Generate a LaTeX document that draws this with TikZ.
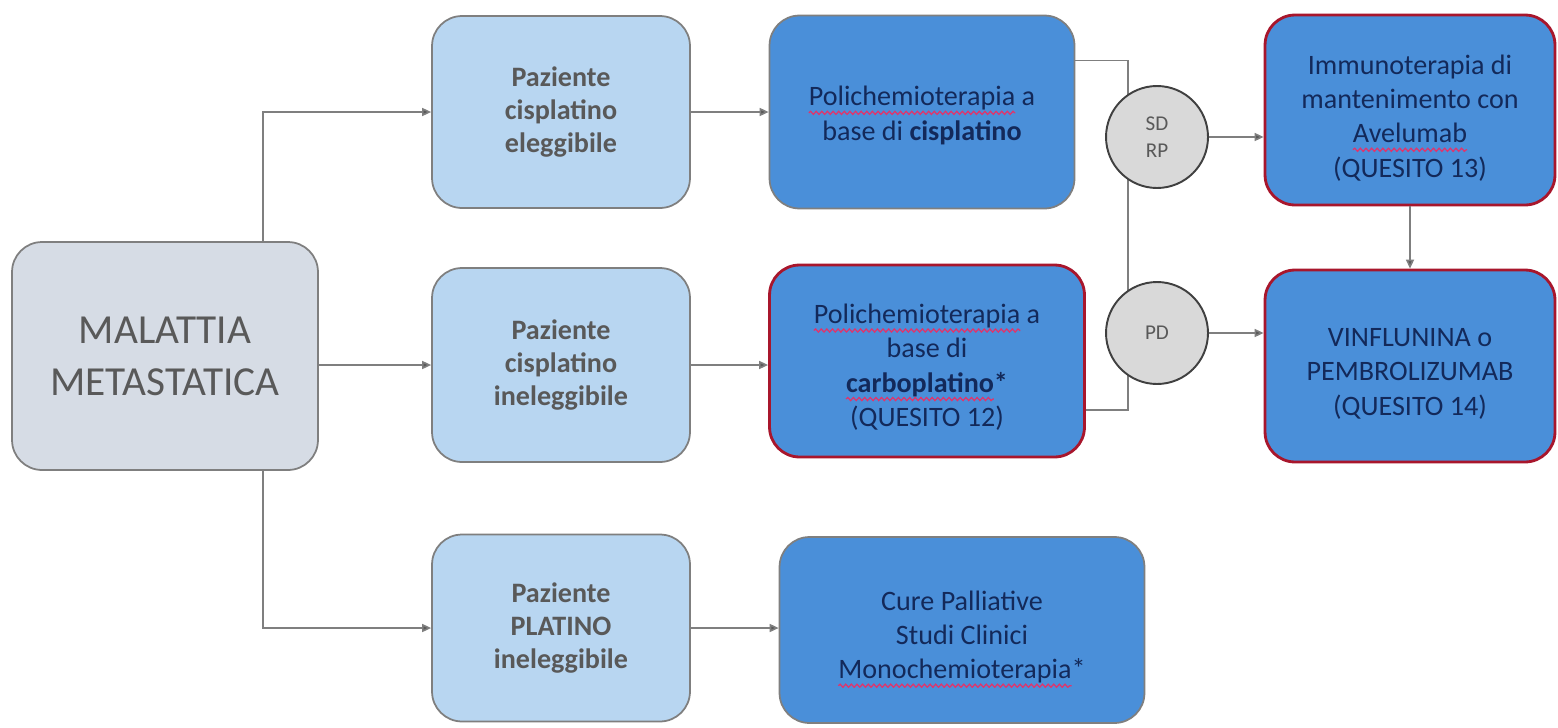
\documentclass[tikz,border=0pt]{standalone}
\usepackage{fontspec}
\setmainfont{Carlito}
\usetikzlibrary{arrows.meta,decorations.pathmorphing}

\definecolor{linegrey}{HTML}{7F7F7F}
\definecolor{arrowgrey}{HTML}{595959}
\definecolor{startfill}{HTML}{D6DCE5}
\definecolor{patientfill}{HTML}{B8D6F1}
\definecolor{therapyfill}{HTML}{4A8FD9}
\definecolor{keyred}{HTML}{A8162C}
\definecolor{navytext}{HTML}{13295A}
\definecolor{greytext}{HTML}{595959}
\definecolor{circlefill}{HTML}{D9D9D9}
\definecolor{spellred}{HTML}{E2336A}

% red wavy underline, as left by a spell checker
\newsavebox\spellbox
\newcommand\spell[1]{\sbox\spellbox{#1}\leavevmode\rlap{\tikz[baseline=0pt]{%
  \path[use as bounding box] (0pt,0pt) rectangle (\wd\spellbox,1pt);
  \draw[draw=spellred, fill=none, sharp corners, line width=0.7pt,
    decoration={snake, amplitude=0.9pt, segment length=3.2pt}, decorate]
    (0pt,-4pt) -- (\wd\spellbox,-4pt);}}\usebox\spellbox}

% a taller first line sets a text block a little lower in its box
\newcommand\topgap[1]{\rule{0pt}{#1}}

\tikzset{
  box/.style={rectangle, rounded corners=0.6cm, align=center, draw=linegrey,
    line width=1pt, inner sep=2pt},
  startbox/.style={box, fill=startfill, text=greytext,
    font=\fontsize{23.5}{29.5}\selectfont},
  patientbox/.style={box, fill=patientfill, text=greytext,
    font=\fontsize{16}{19}\selectfont\bfseries},
  therapybox/.style={box, fill=therapyfill, text=navytext,
    font=\fontsize{16}{19.5}\selectfont},
  keybox/.style={therapybox, draw=keyred, line width=1.6pt},
  outcome/.style={circle, minimum size=2.04cm, fill=circlefill, draw=black!75,
    line width=1.1pt, text=arrowgrey, align=center, inner sep=0pt,
    font=\fontsize{12}{15}\selectfont},
  link/.style={draw=linegrey, line width=0.9pt},
  arrow/.style={link, -{Triangle[length=0.18cm, width=0.16cm, fill=arrowgrey]}},
}

\begin{document}
\begin{tikzpicture}[x=0.02cm, y=-0.02cm]
\useasboundingbox[fill=white] (0,0) rectangle (1558,727);

% starting condition
\node[startbox, minimum width=6.12cm, minimum height=4.56cm] (mal) at (165,356)
  {MALATTIA\\METASTATICA};

% patient groups
\node[patientbox, minimum width=5.16cm, minimum height=3.84cm] (p1) at (561,112)
  {Paziente\\cisplatino\\eleggibile};
\node[patientbox, minimum width=5.16cm, minimum height=3.88cm] (p2) at (561,365)
  {Paziente\\cisplatino\\ineleggibile};
\node[patientbox, minimum width=5.16cm, minimum height=3.74cm] (p3) at (561,628)
  {Paziente\\PLATINO\\ineleggibile};

% first-line treatments
\node[therapybox, minimum width=6.10cm, minimum height=3.86cm] (c1) at (922,112)
  {\topgap{15pt}\spell{Polichemioterapia} a\\base di \textbf{cisplatino}};
\node[keybox, minimum width=6.30cm, minimum height=3.84cm] (c2) at (927,361)
  {\topgap{18pt}\spell{Polichemioterapia} a\\base di\\\spell{\textbf{carboplatino}}\textbf{*}\\(QUESITO 12)};
\node[therapybox, minimum width=7.30cm, minimum height=3.72cm] (cp) at (962,630)
  {\topgap{19pt}Cure Palliative\\Studi Clinici\\\spell{Monochemioterapia}*};

% subsequent treatments
\node[keybox, minimum width=5.80cm, minimum height=3.80cm] (im) at (1410,110)
  {\topgap{20pt}Immunoterapia di\\mantenimento con\\\spell{Avelumab}\\(QUESITO 13)};
\node[keybox, minimum width=5.80cm, minimum height=3.84cm] (vf) at (1410,366)
  {\topgap{19pt}VINFLUNINA o\\PEMBROLIZUMAB\\(QUESITO 14)};

% bracket joining both platinum regimens
\coordinate (br) at (1128,0);
\draw[link] ([yshift=1.03cm]c1.east) -- ([yshift=1.03cm]c1.east -| br)
  -- ([yshift=-0.98cm]c2.east -| br) -- ([yshift=-0.98cm]c2.east);

% response to first line
\node[outcome] (sd) at (1157,137) {SD\\RP};
\node[outcome] (pd) at (1157,333) {PD};

% connectors
\draw[arrow] ([xshift=-1.12cm]mal.north east) |- (p1.west);
\draw[arrow] (mal.east |- p2.west) -- (p2.west);
\draw[arrow] ([xshift=-1.12cm]mal.south east) |- (p3.west);
\draw[arrow] (p1.east) -- (c1.west |- p1.east);
\draw[arrow] (p2.east) -- (c2.west |- p2.east);
\draw[arrow] (p3.east) -- (cp.west |- p3.east);
\draw[arrow] (sd.east) -- (im.west |- sd.east);
\draw[arrow] (pd.east) -- (vf.west |- pd.east);
\draw[arrow] (im.south) -- (vf.north);
\end{tikzpicture}
\end{document}
